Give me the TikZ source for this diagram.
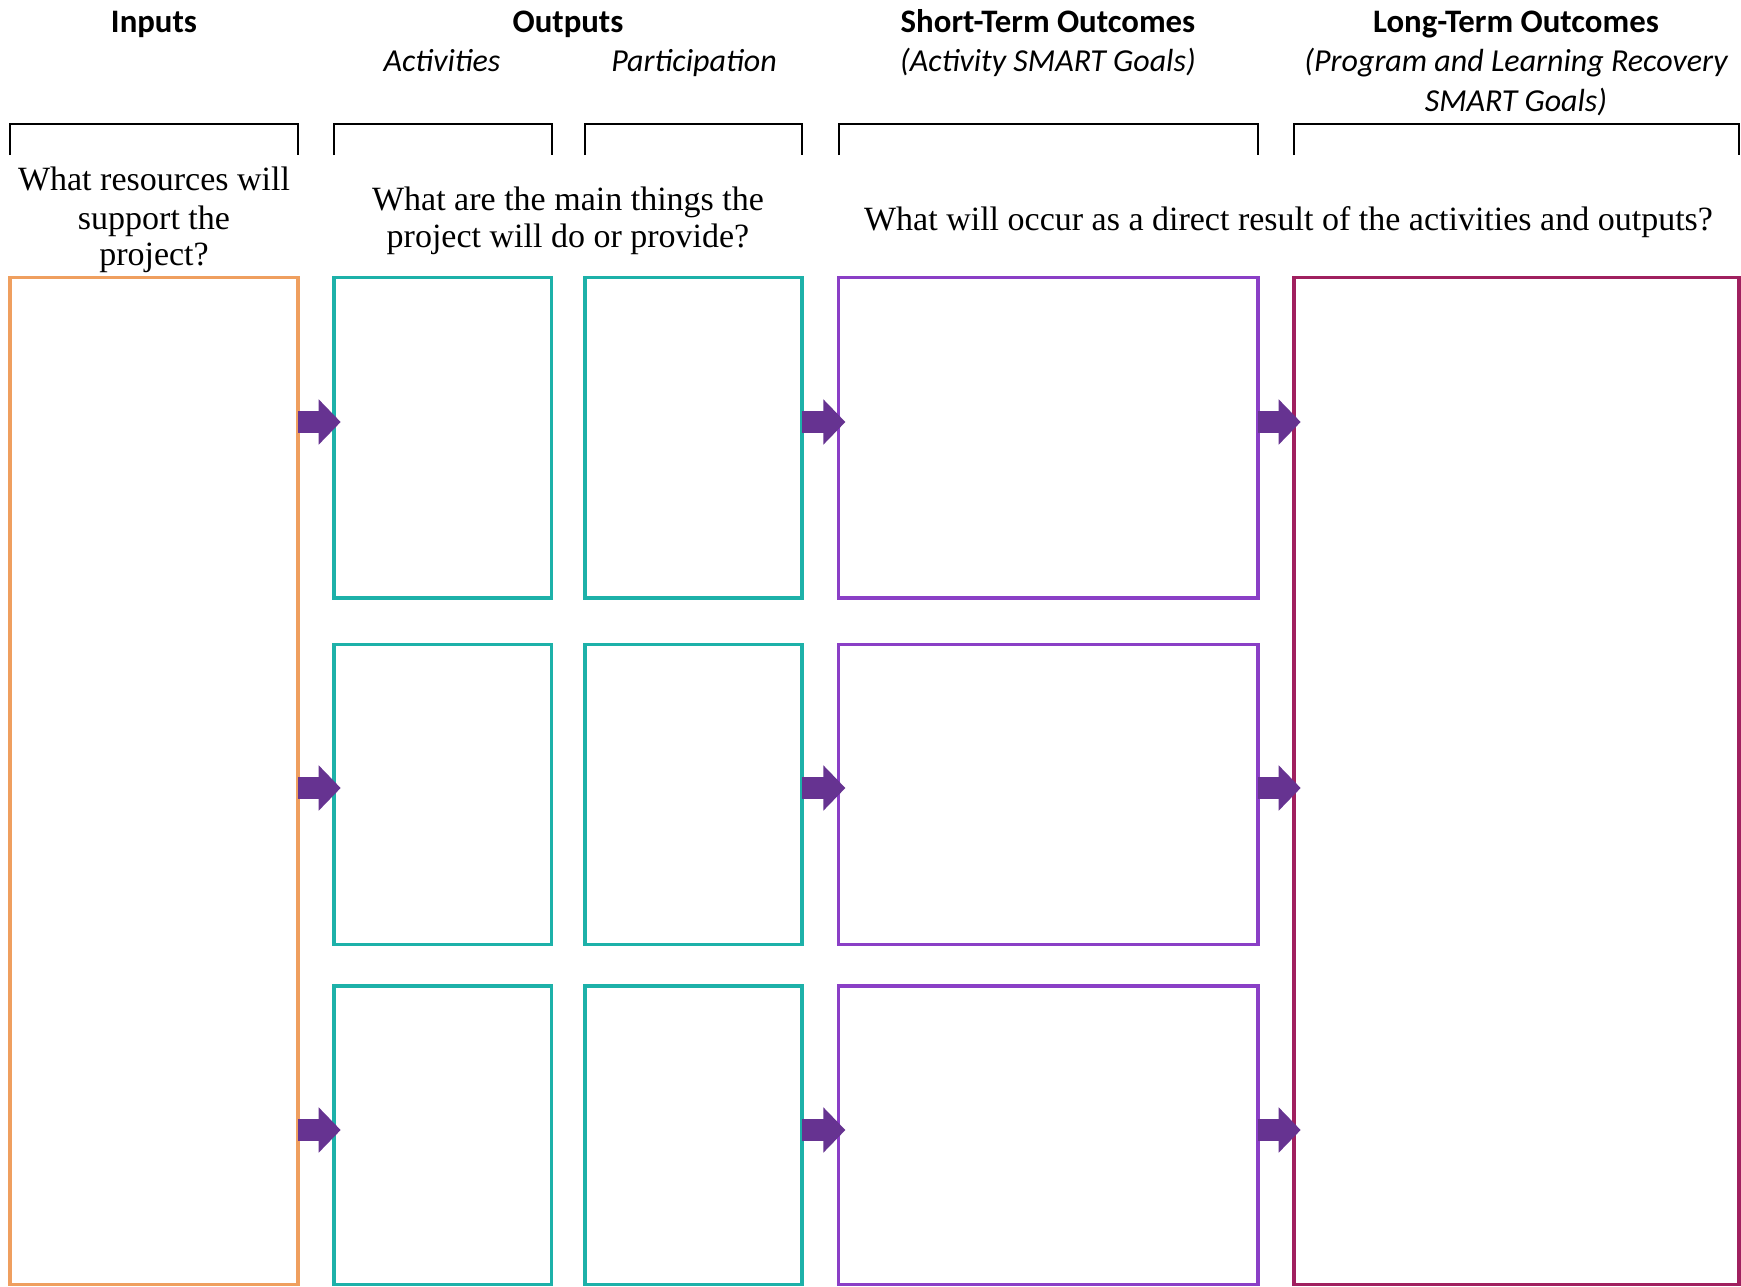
\documentclass[tikz,border=0pt]{standalone}
\usepackage{fontspec}
\setmainfont{Liberation Serif}
\newfontfamily\hdfont{Carlito}
\usetikzlibrary{arrows.meta,calc}

\definecolor{inpcol}{HTML}{EF9F5F}
\definecolor{outcol}{HTML}{1DB1A9}
\definecolor{stcol}{HTML}{8A3FC6}
\definecolor{ltcol}{HTML}{A0205F}
\definecolor{flowcol}{HTML}{663391}

\tikzset{
  box/.style={draw=#1, line width=3.3pt, inner sep=0pt, outer sep=0pt,
              anchor=north west, fill=none},
  bracket/.style={draw=black, line width=2pt},
  flow/.style={draw=flowcol, line width=21.5pt,
               -{Triangle[length=22pt,width=44pt]}},
  head/.style={font=\hdfont\bfseries\fontsize{32.8}{39}\selectfont, anchor=base, inner sep=0pt},
  sub/.style={font=\hdfont\itshape\fontsize{32}{39}\selectfont, anchor=base, inner sep=0pt},
  ask/.style={font=\fontsize{34}{39}\selectfont, anchor=base, inner sep=0pt},
}

\begin{document}
\begin{tikzpicture}[x=1pt,y=-1pt]
  \useasboundingbox[fill=white] (0,0) rectangle (1741,1286);

  % column boxes
  \node[box=inpcol, minimum width=288pt, minimum height=1006.8pt] (inp) at (10,277.7) {};
  \node[box=outcol, minimum width=217.5pt, minimum height=320.3pt] (act1) at (334,277.7) {};
  \node[box=outcol, minimum width=217.5pt, minimum height=300.2pt] (act2) at (334,644.5) {};
  \node[box=outcol, minimum width=217.5pt, minimum height=298.5pt] (act3) at (334,986) {};
  \node[box=outcol, minimum width=217pt, minimum height=320.3pt] (par1) at (585,277.7) {};
  \node[box=outcol, minimum width=217pt, minimum height=300.2pt] (par2) at (585,644.5) {};
  \node[box=outcol, minimum width=217pt, minimum height=298.5pt] (par3) at (585,986) {};
  \node[box=stcol, minimum width=419.3pt, minimum height=320.3pt] (sho1) at (838.7,277.7) {};
  \node[box=stcol, minimum width=419.3pt, minimum height=300.2pt] (sho2) at (838.7,644.5) {};
  \node[box=stcol, minimum width=419.3pt, minimum height=298.5pt] (sho3) at (838.7,986) {};
  \node[box=ltcol, minimum width=445pt, minimum height=1006.8pt] (lng) at (1294,277.7) {};

  % brackets above the columns
  \foreach \b in {inp,act1,par1,sho1,lng}{
    \draw[bracket] (\b.north west |- 0,155) |- (\b.north east |- 0,123.7) -- (\b.north east |- 0,155);
  }

  % flow arrows
  \foreach \y/\r in {422/1,788/2,1130/3}{
    \draw[flow] (inp.east |- 0,\y) -- ($(act\r.west |- 0,\y)+(6.7,0)$);
    \draw[flow] (par\r.east |- 0,\y) -- ($(sho\r.west |- 0,\y)+(6.7,0)$);
    \draw[flow] (sho\r.east |- 0,\y) -- ($(lng.west |- 0,\y)+(6.7,0)$);
  }

  % headings
  \node[head] (hinp) at (154,32) {Inputs};
  \node[head] (hout) at (568,32) {Outputs};
  \node[sub] (hact) at (442,71) {Activities};
  \node[sub] (hpar) at (694,71) {Participation};
  \node[head] (hsho) at (1048,32) {Short-Term Outcomes};
  \node[sub] (ssho) at (1048,71) {(Activity SMART Goals)};
  \node[head] (hlng) at (1516,32) {Long-Term Outcomes};
  \node[sub] (slng1) at (1516,71) {(Program and Learning Recovery};
  \node[sub] (slng2) at (1516,111) {SMART Goals)};

  % guiding questions
  \node[ask] (q1a) at (154,190) {What resources will};
  \node[ask] (q1b) at (154,229) {support the};
  \node[ask] (q1c) at (154,265) {project?};
  \node[ask] (q2a) at (568,210) {What are the main things the};
  \node[ask] (q2b) at (568,247.5) {project will do or provide?};
  \node[ask] (q3) at (1288.5,230) {What will occur as a direct result of the activities and outputs?};
\end{tikzpicture}
\end{document}
